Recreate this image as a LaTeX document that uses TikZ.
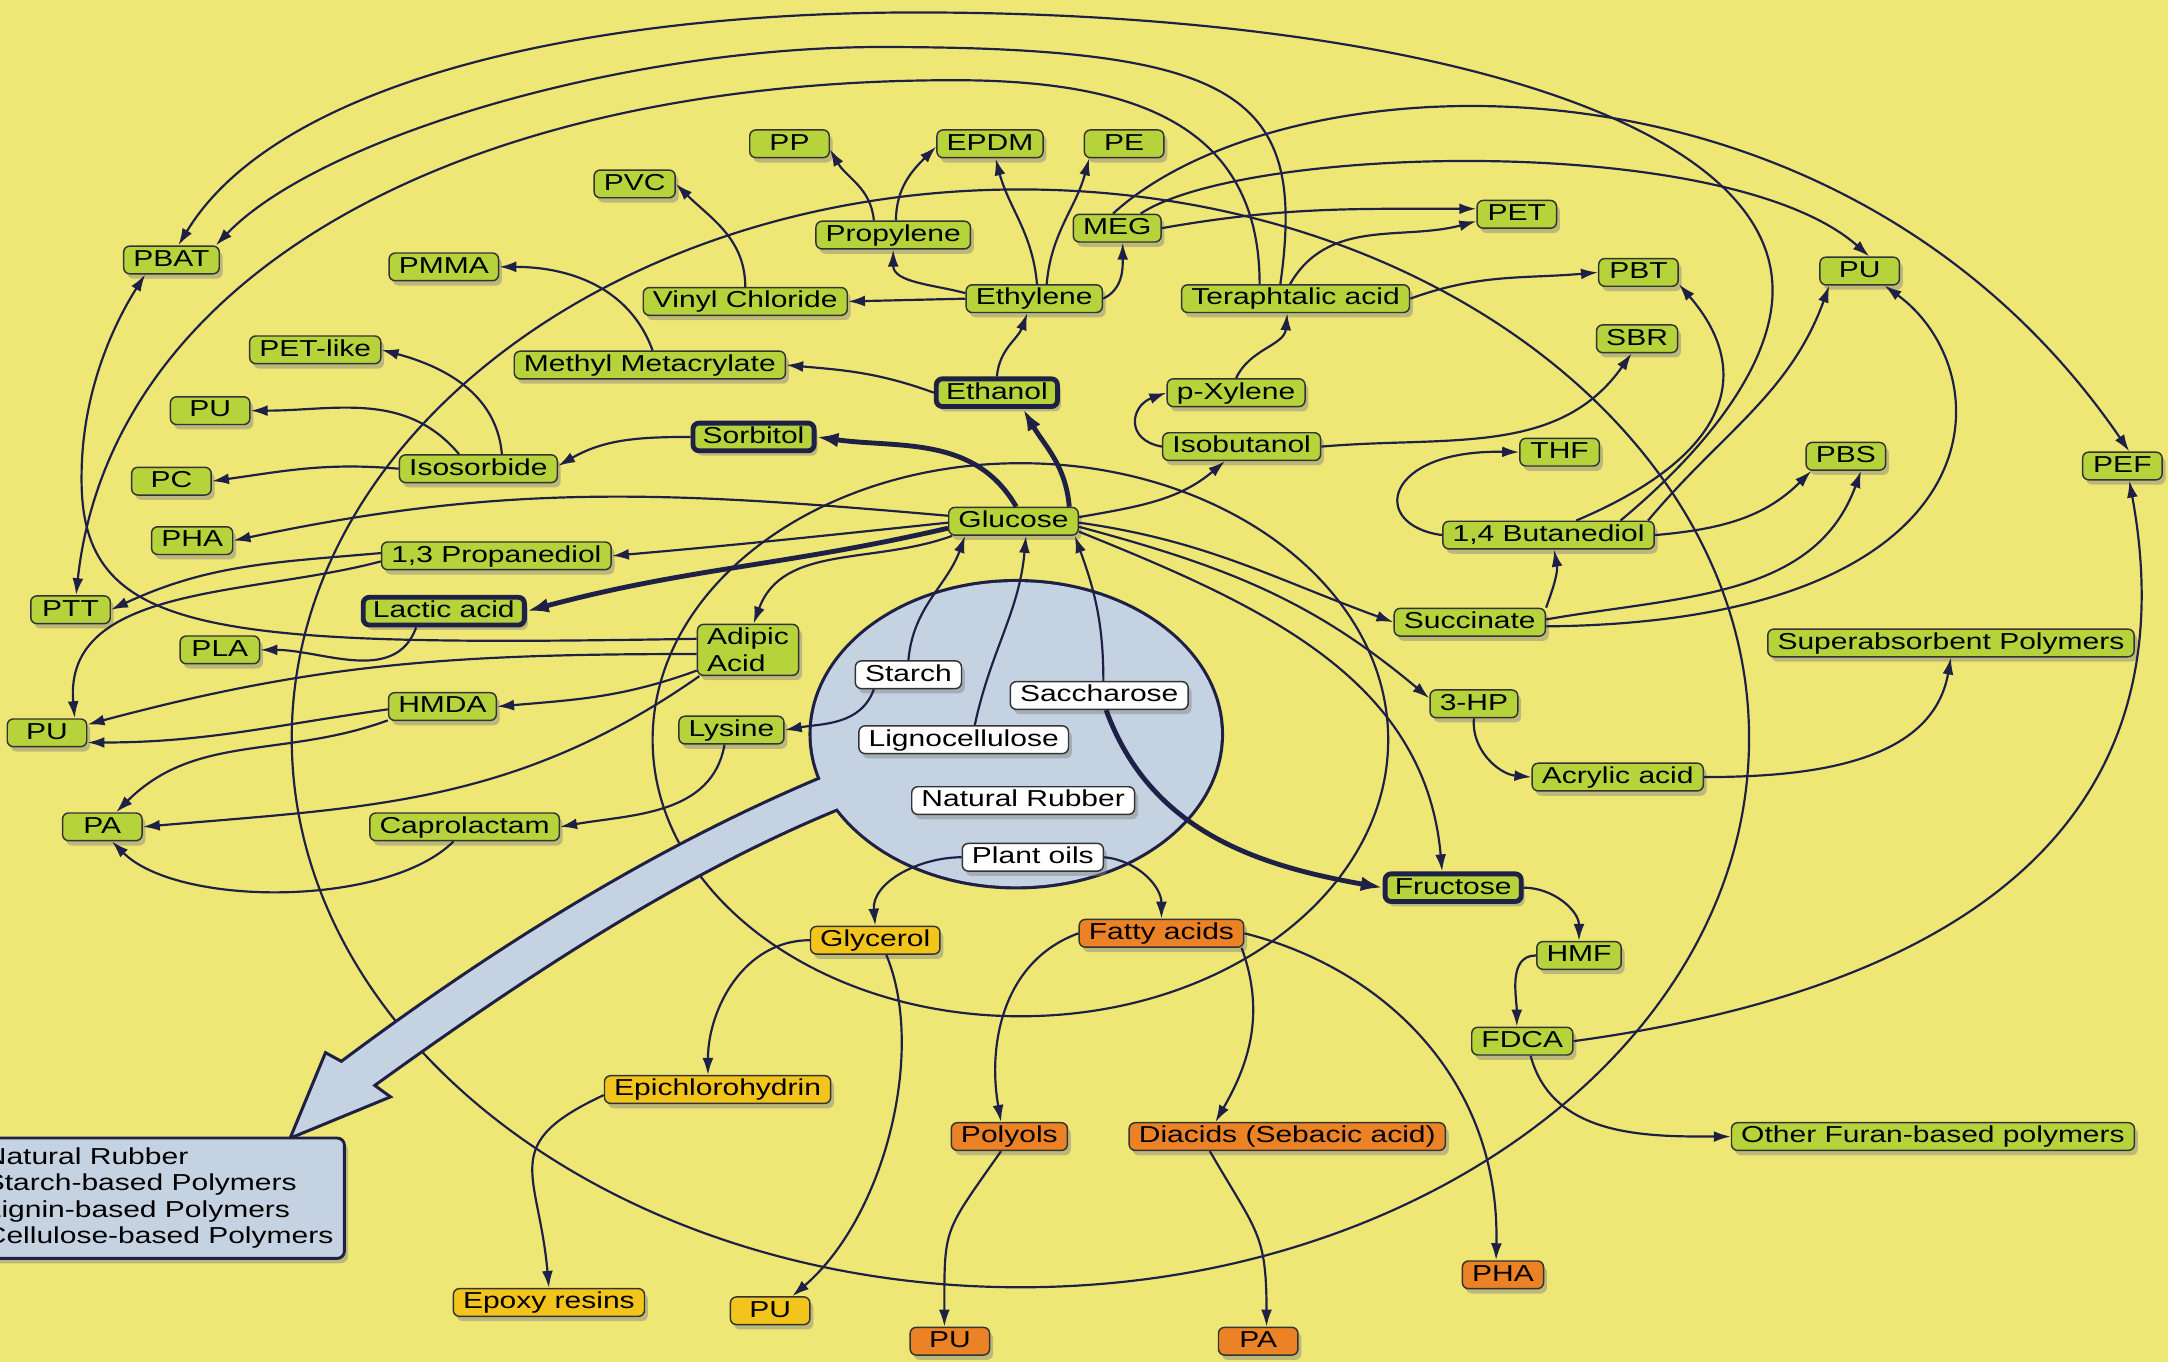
\documentclass[tikz,border=0pt]{standalone}
\usepackage{fontspec}
\setmainfont{Liberation Sans}[FakeStretch=1.3]
\usetikzlibrary{arrows.meta,shadows,positioning}
\definecolor{bgyellow}{RGB}{238,231,118}
\definecolor{leafgreen}{RGB}{182,211,60}
\definecolor{oilorange}{RGB}{236,130,38}
\definecolor{oilgold}{RGB}{243,196,28}
\definecolor{srcblue}{RGB}{197,210,226}
\definecolor{ink}{RGB}{30,32,70}

\tikzset{
  cbox/.style={draw=black!80, line width=0.6pt, rounded corners=2.5pt,
    inner xsep=4pt, inner ysep=1.1pt, minimum width=1.15cm,
    font=\fontsize{9.5}{11}\selectfont,
    drop shadow={opacity=0.45, shadow xshift=1.4pt, shadow yshift=-2pt}},
  chem/.style={cbox, text height=7.2pt, text depth=2pt},
  grn/.style={chem, fill=leafgreen},
  hub/.style={grn, draw=ink, line width=2pt},
  src/.style={chem, fill=white},
  gold/.style={chem, fill=oilgold},
  orng/.style={chem, fill=oilorange},
  conv/.style={draw=ink, line width=0.9pt, -{Latex[length=7pt,width=4.5pt]}},
  thickconv/.style={conv, line width=2pt, -{Latex[length=9pt,width=6pt]}},
  orbit/.style={draw=ink, line width=0.9pt},
  handle/.style={insert path={(612,-556) .. controls (480,-609) and (358,-686) .. (247,-769)
    -- (236,-763) -- (212,-821) -- (280,-793) -- (269,-785)
    .. controls (380,-705) and (500,-625) .. (622,-578) -- cycle}}
}

\begin{document}
\begin{tikzpicture}[x=0.02cm, y=0.02cm]
\pgfmathsetmacro{\srcrx}{148}
\pgfmathsetmacro{\srcry}{110}
\fill[bgyellow] (0,0) rectangle (1568,-985);
\useasboundingbox (0,0) rectangle (1568,-985);

% orbits
\draw[orbit] (738,-534) ellipse (527 and 397);
\draw[orbit] (738,-535) ellipse (266 and 200);

% raw materials lens
\draw[ink, line width=2.6pt] (735,-531) ellipse ({\srcrx} and {\srcry});
\draw[ink, line width=2.6pt, handle];
\fill[srcblue] (735,-531) ellipse ({\srcrx} and {\srcry});
\fill[srcblue, handle];
\node[draw=ink, line width=1.2pt, fill=srcblue, rounded corners=3pt, anchor=north west,
  align=left, inner xsep=0.16cm, inner ysep=4pt,
  font=\fontsize{9.5}{10.9}\selectfont,
  drop shadow={opacity=0.45, shadow xshift=1.5pt, shadow yshift=-2pt}] (legend) at (-20,-822)
  {Natural Rubber\\Starch-based Polymers\\Lignin-based Polymers\\Cellulose-based Polymers};

% nodes
\node[grn] (pp)    at (571,-104)  {PP};
\node[grn] (epdm)  at (716,-104)  {EPDM};
\node[grn] (pe)    at (813,-104)  {PE};
\node[grn] (pvc)   at (459,-133)  {PVC};
\node[grn] (prop)  at (646,-170)  {Propylene};
\node[grn] (meg)   at (808,-165)  {MEG};
\node[grn] (pet)   at (1097,-155) {PET};
\node[grn] (pbat)  at (124,-188)  {PBAT};
\node[grn] (pmma)  at (321,-193)  {PMMA};
\node[grn] (vc)    at (539,-218)  {Vinyl Chloride};
\node[grn] (ethy)  at (748,-216)  {Ethylene};
\node[grn] (ta)    at (937,-216)  {Teraphtalic acid};
\node[grn] (pbt)   at (1185,-197) {PBT};
\node[grn] (pur)   at (1345,-196) {PU};
\node[grn] (sbr)   at (1184,-245) {SBR};
\node[grn] (petl)  at (228,-253)  {PET-like};
\node[grn] (mma)   at (470,-264)  {Methyl Metacrylate};
\node[hub] (etoh)  at (721,-284)  {Ethanol};
\node[grn] (pxyl)  at (894,-284)  {p-Xylene};
\node[grn] (puiso) at (152,-297)  {PU};
\node[hub] (sorb)  at (545,-316)  {Sorbitol};
\node[grn] (isob)  at (898,-323)  {Isobutanol};
\node[grn] (thf)   at (1128,-327) {THF};
\node[grn] (pbs)   at (1335,-330) {PBS};
\node[grn] (pef)   at (1535,-337) {PEF};
\node[grn] (pc)    at (124,-348)  {PC};
\node[grn] (isos)  at (346,-339)  {Isosorbide};
\node[grn] (pha)   at (139,-391)  {PHA};
\node[grn] (gluc)  at (733,-377)  {Glucose};
\node[grn] (pdo)   at (359,-402)  {1,3 Propanediol};
\node[grn] (bdo)   at (1120,-387) {1,4 Butanediol};
\node[grn] (ptt)   at (51,-441)   {PTT};
\node[hub] (lact)  at (321,-442)  {Lactic acid};
\node[grn] (succ)  at (1063,-450) {Succinate};
\node[grn] (pla)   at (159,-470)  {PLA};
\node[cbox, fill=leafgreen, align=left, inner ysep=1.6pt, font=\fontsize{9.5}{10.8}\selectfont] (adip) at (541,-470) {Adipic\\Acid};
\node[grn] (sap)   at (1411,-465) {Superabsorbent Polymers};
\node[grn] (hp)    at (1066,-509) {3-HP};
\node[grn] (hmda)  at (320,-511)  {HMDA};
\node[grn] (pua)   at (34,-530)   {PU};
\node[grn] (lys)   at (529,-528)  {Lysine};
\node[grn] (acry)  at (1170,-562) {Acrylic acid};
\node[grn] (paa)   at (74,-598)   {PA};
\node[grn] (capr)  at (336,-598)  {Caprolactam};
\node[hub] (fruc)  at (1051,-642) {Fructose};
\node[grn] (hmf)   at (1142,-691) {HMF};
\node[grn] (fdca)  at (1101,-753) {FDCA};
\node[grn] (furan) at (1398,-822) {Other Furan-based polymers};

\node[src] (starch) at (657,-488) {Starch};
\node[src] (sacc)   at (795,-503) {Saccharose};
\node[src] (ligno)  at (697,-535) {Lignocellulose};
\node[src] (rubber) at (740,-579) {Natural Rubber};
\node[src] (oils)   at (747,-620) {Plant oils};

\node[gold] (glyc)   at (633,-680) {Glycerol};
\node[orng] (fatty)  at (840,-675) {Fatty acids};
\node[gold] (epi)    at (519,-788) {Epichlorohydrin};
\node[orng] (polyol) at (730,-822) {Polyols};
\node[orng] (diac)   at (931,-822) {Diacids (Sebacic acid)};
\node[orng] (phab)   at (1087,-922) {PHA};
\node[gold] (epox)   at (397,-942) {Epoxy resins};
\node[gold] (pug)    at (557,-948) {PU};
\node[orng] (puo)    at (687,-970) {PU};
\node[orng] (pao)    at (910,-970) {PA};

% glucose
\draw[thickconv] ([xshift=-0.14cm]gluc.north east) to[out=95,in=-60] ([xshift=0.38cm]etoh.south);
\draw[thickconv] ([xshift=0.04cm]gluc.north) to[out=120,in=-8] (sorb.east);
\draw[conv] ([yshift=0.06cm]gluc.east) to[out=10,in=-140] ([xshift=-0.24cm]isob.south);
\draw[conv] ([yshift=0.08cm]gluc.west) to[out=175,in=12] (pha.east);
\draw[conv] ([yshift=-0.02cm]gluc.west) to[out=186,in=5] (pdo.east);
\draw[thickconv] ([yshift=-0.1cm]gluc.west) to[out=193,in=15] (lact.east);
\draw[conv] ([xshift=0.06cm]gluc.south west) to[out=200,in=70] ([xshift=0.08cm]adip.north);
\draw[conv] ([yshift=-0.02cm]gluc.east) to[out=-8,in=160] (succ.west);
\draw[conv] ([yshift=-0.08cm]gluc.east) to[out=-15,in=140] ([yshift=0.08cm]hp.west);
\draw[conv] ([yshift=-0.15cm]gluc.east) to[out=-22,in=95] ([xshift=-0.16cm]fruc.north);

% sources
\draw[conv] (starch.north) to[out=85,in=-110] ([xshift=-0.7cm]gluc.south);
\draw[conv] ([xshift=0.16cm]ligno.north) to[out=78,in=-95] ([xshift=0.18cm]gluc.south);
\draw[conv] ([xshift=0.06cm]sacc.north) to[out=90,in=-70] ([xshift=-0.06cm]gluc.south east);
\draw[thickconv] ([xshift=0.1cm]sacc.south) to[out=-70,in=170] (fruc.west);
\draw[conv] ([xshift=-0.5cm]starch.south) to[out=-110,in=10] (lys.east);
\draw[conv] (oils.west) to[out=180,in=95] (glyc.north);
\draw[conv] (oils.east) to[out=-5,in=90] (fatty.north);

% ethanol, ethylene
\draw[conv] (etoh.north) to[out=85,in=-110] ([xshift=-0.1cm]ethy.south);
\draw[conv] (etoh.west) to[out=160,in=-5] (mma.east);
\draw[conv] (ethy.west) -- (vc.east);
\draw[conv] ([yshift=0.08cm]ethy.west) to[out=165,in=-90] (prop.south);
\draw[conv] ([xshift=0.04cm]ethy.north) to[out=95,in=-75] ([xshift=0.08cm]epdm.south);
\draw[conv] ([xshift=0.18cm]ethy.north) to[out=85,in=-105] ([xshift=0.08cm]pe.south west);
\draw[conv] (ethy.east) to[out=25,in=-90] ([xshift=0.08cm]meg.south);
\draw[conv] ([xshift=-0.28cm]prop.north) to[out=95,in=-60] ([yshift=-0.08cm]pp.east);
\draw[conv] ([xshift=0.04cm]prop.north) to[out=90,in=-135] ([yshift=-0.04cm]epdm.west);
\draw[conv] (vc.north) to[out=90,in=-45] (pvc.east);
\draw[conv] ([xshift=0.04cm]mma.north) to[out=110,in=0] (pmma.east);

% MEG, teraphtalic acid
\draw[conv] (meg.east) to[out=10,in=180] ([yshift=0.08cm]pet.west);
\draw[conv] ([xshift=-0.06cm]meg.north) .. controls (930,-40) and (1330,-20) .. ([xshift=0.1cm]pef.north);
\draw[conv] ([xshift=0.34cm]meg.north) .. controls (900,-105) and (1250,-95) .. ([xshift=0.14cm]pur.north);
\draw[conv] ([xshift=-0.08cm]ta.north) to[out=60,in=195] ([yshift=-0.1cm]pet.west);
\draw[conv] (ta.east) to[out=20,in=185] (pbt.west);
\draw[conv] ([xshift=-0.22cm]ta.north) .. controls (945,-70) and (900,-34) .. (637,-34)
  .. controls (450,-34) and (230,-100) .. ([xshift=-0.06cm]pbat.north east);
\draw[conv] ([xshift=-0.52cm]ta.north) .. controls (911,-90) and (820,-58) .. (690,-58)
  .. controls (330,-58) and (80,-200) .. ([xshift=0.08cm]ptt.north);
\draw[conv] (pxyl.north) to[out=65,in=-95] ([xshift=-0.12cm]ta.south);

% isobutanol
\draw[conv] (isob.west) to[out=170,in=200,looseness=1.8] (pxyl.west);
\draw[conv] (isob.east) to[out=5,in=-125] ([xshift=-0.08cm]sbr.south);

% butanediol, succinate
\draw[conv] ([xshift=1.04cm]bdo.north) .. controls (1240,-320) and (1282,-260) .. (1282,-210)
  .. controls (1282,-80) and (1000,-9) .. (663,-9)
  .. controls (420,-9) and (200,-60) .. ([xshift=0.1cm]pbat.north);
\draw[conv] (bdo.west) .. controls (990,-380) and (1000,-325) .. (thf.west);
\draw[conv] ([xshift=0.4cm]bdo.north) .. controls (1250,-330) and (1270,-270) .. ([yshift=0.04cm]pbt.south east);
\draw[conv] ([xshift=-0.1cm]bdo.north east) to[out=50,in=-110] ([xshift=-0.44cm]pur.south);
\draw[conv] (bdo.east) to[out=5,in=-135] ([xshift=-0.5cm]pbs.south);
\draw[conv] (succ.north east) to[out=70,in=-80] ([xshift=0.08cm]bdo.south);
\draw[conv] ([yshift=0.04cm]succ.east) to[out=10,in=-110] ([xshift=0.22cm]pbs.south);
\draw[conv] ([yshift=-0.06cm]succ.east) .. controls (1450,-450) and (1450,-270) .. ([xshift=0.36cm]pur.south);

% 3-HP, fructose
\draw[conv] (hp.south) to[out=-95,in=175] (acry.west);
\draw[conv] (acry.east) to[out=0,in=-100] (sap.south);
\draw[conv] (fruc.east) to[out=0,in=90] (hmf.north);
\draw[conv] (hmf.west) to[out=180,in=90] ([xshift=-0.08cm]fdca.north);
\draw[conv] (fdca.east) .. controls (1380,-720) and (1590,-620) .. ([xshift=0.1cm]pef.south);
\draw[conv] ([xshift=0.12cm]fdca.south) to[out=-75,in=180] (furan.west);

% left side
\draw[conv] ([yshift=0.16cm]adip.west) .. controls (150,-468) and (58,-460) .. (59,-345)
  .. controls (59,-280) and (85,-230) .. ([xshift=-0.38cm]pbat.south);
\draw[conv] ([yshift=-0.06cm]adip.west) to[out=180,in=15] ([yshift=0.12cm]pua.east);
\draw[conv] ([yshift=-0.3cm]adip.west) to[out=200,in=5] (hmda.east);
\draw[conv] ([xshift=0.04cm]adip.south west) to[out=215,in=5] (paa.east);
\draw[conv] ([yshift=-0.04cm]hmda.west) to[out=188,in=0] ([yshift=-0.14cm]pua.east);
\draw[conv] ([yshift=-0.2cm]hmda.west) to[out=200,in=45] ([xshift=0.2cm]paa.north);
\draw[conv] ([xshift=-0.16cm]capr.south) to[out=-135,in=-45,looseness=0.7] ([xshift=0.14cm]paa.south);
\draw[conv] ([xshift=-0.1cm]lys.south) to[out=-100,in=10] (capr.east);
\draw[conv] ([yshift=-0.08cm]pdo.west) to[out=195,in=95] ([xshift=0.4cm]pua.north);
\draw[conv] ([yshift=0.04cm]pdo.west) to[out=185,in=25] (ptt.east);
\draw[conv] ([xshift=-0.4cm]lact.south) to[out=-110,in=0] (pla.east);
\draw[conv] (sorb.west) to[out=180,in=30] ([yshift=0.04cm]isos.east);
\draw[conv] (isos.west) to[out=175,in=8] (pc.east);
\draw[conv] ([xshift=-0.28cm]isos.north) to[out=130,in=0] (puiso.east);
\draw[conv] ([xshift=0.34cm]isos.north) to[out=95,in=-15] (petl.east);

% plant oils
\draw[conv] (glyc.west) to[out=180,in=90] ([xshift=-0.14cm]epi.north);
\draw[conv] ([xshift=0.16cm]glyc.south) .. controls (670,-760) and (640,-880) .. ([xshift=0.32cm]pug.north);
\draw[conv] ([yshift=-0.08cm]epi.west) to[out=205,in=95,looseness=1.5] (epox.north);
\draw[conv] (fatty.west) to[out=200,in=100] ([xshift=-0.12cm]polyol.north);
\draw[conv] ([xshift=-0.04cm]fatty.south east) to[out=-70,in=60] ([xshift=-1.04cm]diac.north);
\draw[conv] (fatty.east) .. controls (1000,-700) and (1085,-780) .. ([xshift=-0.1cm]phab.north);
\draw[conv] ([xshift=-0.12cm]polyol.south) to[out=-125,in=90,looseness=1.4] ([xshift=-0.08cm]puo.north);
\draw[conv] ([xshift=-1.12cm]diac.south) to[out=-60,in=90,looseness=1.3] ([xshift=0.12cm]pao.north);
\end{tikzpicture}
\end{document}
